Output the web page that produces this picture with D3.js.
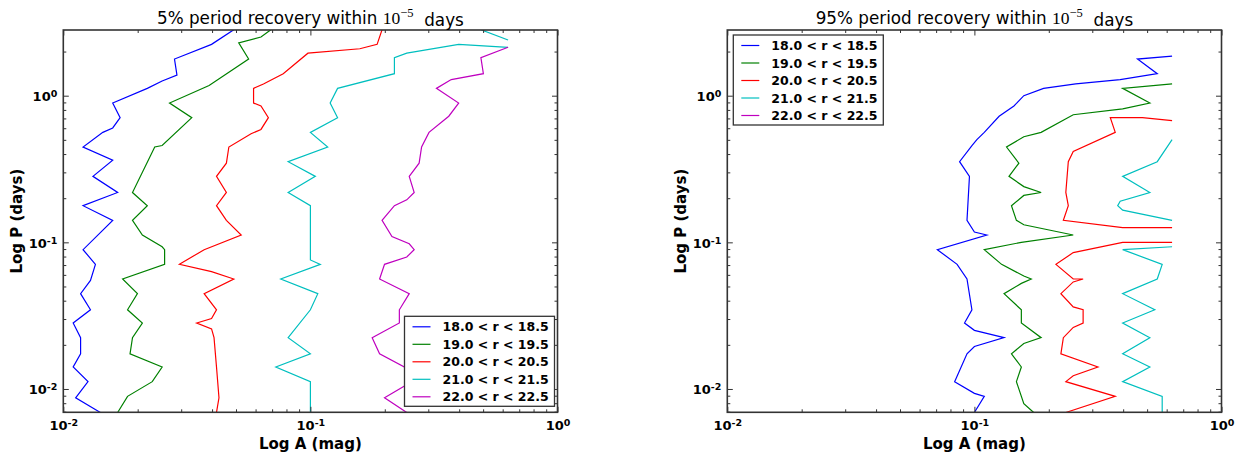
<!DOCTYPE html>
<html>
<head>
<meta charset="utf-8">
<script src="https://cdn.jsdelivr.net/npm/d3@7"></script>
<style>
  body { margin: 0; background: #fff; }
  svg { display: block; font-family: "DejaVu Sans", sans-serif; }
</style>
</head>
<body>
<div id="chart"></div>
<script>
// magnitude bins (legend) -- values are [log10 A, log10 P]
const binLabels = ["18.0 < r < 18.5", "19.0 < r < 19.5", "20.0 < r < 20.5", "21.0 < r < 21.5", "22.0 < r < 22.5"];
const binColors = ["#0000ff", "#008000", "#ff0000", "#00bfbf", "#bf00bf"];

const xTicks = [0.01, 0.1, 1];
const yTicks = [0.01, 0.1, 1];

// 5% recovery contours
const p5_r18 = [[
    [-1.31,0.45],[-1.40,0.35],[-1.55,0.25],[-1.54,0.14],[-1.60,0.10],[-1.66,0.05],[-1.80,-0.05],[-1.77,-0.15],
    [-1.80,-0.22],[-1.84,-0.25],[-1.92,-0.35],[-1.80,-0.44],[-1.88,-0.55],[-1.78,-0.66],[-1.92,-0.75],[-1.80,-0.85],
    [-1.92,-1.05],[-1.87,-1.15],[-1.89,-1.26],[-1.93,-1.35],[-1.89,-1.46],[-1.96,-1.55],[-1.93,-1.65],[-1.93,-1.76],
    [-1.96,-1.85],[-1.90,-1.95],[-1.95,-2.06],[-1.85,-2.16]
]];
const p5_r19 = [[
    [-1.16,0.45],[-1.20,0.40],[-1.29,0.36],[-1.25,0.25],[-1.41,0.07],[-1.57,-0.05],[-1.48,-0.15],[-1.60,-0.34],
    [-1.63,-0.35],[-1.72,-0.66],[-1.66,-0.75],[-1.72,-0.85],[-1.68,-0.95],[-1.60,-1.03],[-1.59,-1.05],[-1.59,-1.15],
    [-1.76,-1.25],[-1.70,-1.35],[-1.74,-1.46],[-1.68,-1.55],[-1.72,-1.65],[-1.73,-1.76],[-1.60,-1.85],[-1.64,-1.95],
    [-1.74,-2.05],[-1.78,-2.16]
]];
const p5_r20 = [[
    [-0.71,0.45],[-0.73,0.35],[-0.80,0.32],[-1.01,0.29],[-1.11,0.15],[-1.19,0.08],[-1.23,0.05],[-1.23,-0.05],
    [-1.20,-0.07],[-1.17,-0.15],[-1.20,-0.23],[-1.24,-0.26],[-1.33,-0.35],[-1.34,-0.46],[-1.38,-0.55],[-1.34,-0.66],
    [-1.38,-0.75],[-1.34,-0.85],[-1.28,-0.95],[-1.43,-1.05],[-1.53,-1.15],[-1.40,-1.20],[-1.31,-1.25],[-1.43,-1.35],
    [-1.38,-1.46],[-1.40,-1.52],[-1.46,-1.55],[-1.40,-1.59],[-1.39,-1.65],[-1.38,-1.85],[-1.37,-2.06],[-1.38,-2.16]
]];
const p5_r21 = [
    [[-0.31,0.45],[-0.20,0.38]],
    [[-0.20,0.33],[-0.40,0.35],[-0.61,0.29],[-0.66,0.26],[-0.66,0.15],[-0.89,0.05],[-0.92,-0.05],[-0.89,-0.15],
     [-1.00,-0.25],[-0.93,-0.35],[-1.09,-0.45],[-0.98,-0.55],[-1.09,-0.66],[-1.00,-0.75],[-1.00,-1.12],[-0.96,-1.15],
     [-1.12,-1.25],[-0.97,-1.35],[-1.00,-1.46],[-1.09,-1.65],[-1.00,-1.76],[-1.14,-1.85],[-1.00,-1.95],[-1.00,-2.16]]
];
const p5_r22 = [[
    [-0.20,0.33],[-0.31,0.26],[-0.30,0.15],[-0.43,0.11],[-0.49,0.05],[-0.40,-0.05],[-0.44,-0.14],[-0.52,-0.25],
    [-0.55,-0.35],[-0.56,-0.46],[-0.60,-0.55],[-0.58,-0.66],[-0.61,-0.71],[-0.66,-0.75],[-0.71,-0.85],[-0.67,-0.96],
    [-0.60,-1.01],[-0.58,-1.05],[-0.61,-1.10],[-0.70,-1.15],[-0.72,-1.25],[-0.60,-1.35],[-0.64,-1.46],[-0.64,-1.55],
    [-0.75,-1.65],[-0.72,-1.76],[-0.62,-1.85],[-0.59,-1.95],[-0.70,-2.06],[-0.61,-2.16]
]];

// 95% recovery contours
const p95_r18 = [[
    [-0.20,0.27],[-0.34,0.25],[-0.26,0.15],[-0.41,0.11],[-0.59,0.08],[-0.72,0.05],[-0.80,0.00],[-0.84,-0.07],
    [-0.90,-0.14],[-0.96,-0.25],[-0.99,-0.30],[-1.01,-0.34],[-1.06,-0.45],[-1.02,-0.55],[-1.03,-0.85],[-1.00,-0.93],
    [-0.95,-0.95],[-1.15,-1.05],[-1.07,-1.15],[-1.03,-1.25],[-1.01,-1.46],[-1.04,-1.55],[-1.00,-1.60],[-0.88,-1.65],
    [-1.00,-1.71],[-1.03,-1.76],[-1.08,-1.95],[-1.00,-2.03],[-0.96,-2.05],[-1.00,-2.16]
]];
const p95_r19 = [[
    [-0.20,0.08],[-0.40,0.05],[-0.29,-0.05],[-0.40,-0.09],[-0.60,-0.13],[-0.73,-0.25],[-0.80,-0.28],[-0.87,-0.35],
    [-0.82,-0.46],[-0.86,-0.55],[-0.80,-0.62],[-0.73,-0.66],[-0.80,-0.68],[-0.85,-0.75],[-0.83,-0.85],[-0.80,-0.88],
    [-0.60,-0.95],[-0.81,-1.00],[-0.96,-1.05],[-0.89,-1.15],[-0.80,-1.23],[-0.77,-1.25],[-0.81,-1.28],[-0.88,-1.35],
    [-0.81,-1.46],[-0.81,-1.55],[-0.73,-1.65],[-0.80,-1.69],[-0.85,-1.76],[-0.81,-1.85],[-0.83,-1.95],[-0.80,-2.10],
    [-0.76,-2.16]
]];
const p95_r20 = [
    [[-0.20,-0.17],[-0.32,-0.15],[-0.45,-0.15],[-0.43,-0.25],[-0.60,-0.38],[-0.62,-0.45],[-0.63,-0.66],[-0.62,-0.75],
     [-0.64,-0.85],[-0.40,-0.90],[-0.20,-0.90]],
    [[-0.20,-1.00],[-0.40,-1.00],[-0.60,-1.07],[-0.67,-1.15],[-0.60,-1.25],[-0.56,-1.25],[-0.60,-1.27],[-0.65,-1.35],
     [-0.60,-1.44],[-0.56,-1.46],[-0.56,-1.55],[-0.60,-1.58],[-0.64,-1.65],[-0.65,-1.76],[-0.50,-1.85],[-0.60,-1.91],
     [-0.63,-1.95],[-0.43,-2.05],[-0.63,-2.16]]
];
const p95_r21 = [
    [[-0.20,-0.30],[-0.26,-0.45],[-0.40,-0.55],[-0.29,-0.66],[-0.41,-0.72],[-0.42,-0.75],[-0.40,-0.78],[-0.20,-0.85]],
    [[-0.20,-1.03],[-0.40,-1.05],[-0.24,-1.15],[-0.26,-1.25],[-0.40,-1.35],[-0.27,-1.46],[-0.40,-1.55],[-0.29,-1.65],
     [-0.40,-1.76],[-0.29,-1.85],[-0.40,-1.95],[-0.24,-2.05],[-0.24,-2.16]]
];
const p95_r22 = [];

const panels = [
    {title: "5% period recovery within ", series: [p5_r18, p5_r19, p5_r20, p5_r21, p5_r22],
     left: 63.3, legendPos: "lower right"},
    {title: "95% period recovery within ", series: [p95_r18, p95_r19, p95_r20, p95_r21, p95_r22],
     left: 727.3, legendPos: "upper left"}
];

const width = 1237, height = 453;
const plotW = 494.2, plotTop = 30, plotH = 382.3;

const svg = d3.select("#chart").append("svg")
    .attr("width", width)
    .attr("height", height);

function powerLabel(sel) {
    sel.each(function(d) {
        const t = d3.select(this);
        const e = Math.round(Math.log10(d));
        t.text(null);
        t.append("tspan").text("10");
        t.append("tspan").attr("dy", "-0.45em").attr("font-size", "9.5px").text(e);
    });
}

panels.forEach((p, pi) => {
    const x = d3.scaleLog().domain([0.01, 1]).range([0, plotW]);
    const y = d3.scaleLog().domain([Math.pow(10, -2.159), Math.pow(10, 0.448)]).range([plotH, 0]);

    const g = svg.append("g").attr("transform", `translate(${p.left},${plotTop})`);

    g.append("clipPath").attr("id", "clip" + pi)
        .append("rect").attr("width", plotW).attr("height", plotH);

    const minorX = [];
    [0.01, 0.1].forEach(b => { for (let k = 2; k <= 9; k++) minorX.push(b * k); });
    const minorY = [];
    [0.001, 0.01, 0.1, 1].forEach(b => { for (let k = 2; k <= 9; k++) { const v = b * k; if (v >= y.domain()[0] && v <= y.domain()[1]) minorY.push(v); } });

    // contour lines
    const line = d3.line().x(d => x(Math.pow(10, d[0]))).y(d => y(Math.pow(10, d[1])));
    const lines = g.append("g").attr("clip-path", `url(#clip${pi})`);
    p.series.forEach((segs, si) => {
        lines.selectAll(null)
            .data(segs)
            .join("path")
            .attr("d", line)
            .attr("fill", "none")
            .attr("stroke", binColors[si])
            .attr("stroke-width", 1.2);
    });

    // axes: major ticks with labels, minor ticks plain, all inward
    const styleAxis = a => {
        a.select(".domain").remove();
        a.selectAll(".tick line").attr("stroke", "#333").attr("stroke-width", 1);
    };
    const bottom = g.append("g").attr("transform", `translate(0,${plotH})`)
        .call(d3.axisBottom(x).tickValues(xTicks).tickSize(-5.5).tickFormat(d => d))
        .call(styleAxis);
    bottom.selectAll(".tick text")
        .attr("y", 18).attr("dy", null)
        .attr("font-size", "13px").attr("font-weight", "bold").attr("fill", "#000")
        .attr("font-family", "DejaVu Sans")
        .call(powerLabel);
    g.append("g").attr("transform", `translate(0,${plotH})`)
        .call(d3.axisBottom(x).tickValues(minorX).tickSize(-3).tickFormat(""))
        .call(styleAxis);
    g.append("g")
        .call(d3.axisTop(x).tickValues(xTicks).tickSize(-5.5).tickFormat(""))
        .call(styleAxis);
    g.append("g")
        .call(d3.axisTop(x).tickValues(minorX).tickSize(-3).tickFormat(""))
        .call(styleAxis);

    const leftAx = g.append("g")
        .call(d3.axisLeft(y).tickValues(yTicks).tickSize(-5.5).tickFormat(d => d))
        .call(styleAxis);
    leftAx.selectAll(".tick text")
        .attr("x", -6).attr("dy", "0.38em")
        .attr("font-size", "13px").attr("font-weight", "bold").attr("fill", "#000")
        .attr("font-family", "DejaVu Sans")
        .call(powerLabel);
    g.append("g")
        .call(d3.axisLeft(y).tickValues(minorY).tickSize(-3).tickFormat(""))
        .call(styleAxis);
    g.append("g").attr("transform", `translate(${plotW},0)`)
        .call(d3.axisRight(y).tickValues(yTicks).tickSize(-5.5).tickFormat(""))
        .call(styleAxis);
    g.append("g").attr("transform", `translate(${plotW},0)`)
        .call(d3.axisRight(y).tickValues(minorY).tickSize(-3).tickFormat(""))
        .call(styleAxis);

    // frame
    g.append("rect")
        .attr("width", plotW).attr("height", plotH)
        .attr("fill", "none").attr("stroke", "#333").attr("stroke-width", 1.6);

    // title
    const title = g.append("text")
        .attr("x", plotW / 2).attr("y", -6.5)
        .attr("text-anchor", "middle")
        .attr("font-size", "16.8px").attr("fill", "#000");
    title.append("tspan").text(p.title);
    title.append("tspan").attr("font-family", "Liberation Serif, serif").attr("font-size", "17.5px").text("10");
    title.append("tspan").attr("font-family", "Liberation Serif, serif").attr("font-size", "12.5px").attr("dy", "-0.5em").text("\u22125");
    title.append("tspan").attr("dy", "0.5em").text("\u00a0 days");

    // axis labels
    g.append("text")
        .attr("x", plotW / 2).attr("y", plotH + 37)
        .attr("text-anchor", "middle")
        .attr("font-size", "15px").attr("font-weight", "bold")
        .text("Log A (mag)");
    g.append("text")
        .attr("transform", `translate(-41.5,${plotH / 2}) rotate(-90)`)
        .attr("text-anchor", "middle")
        .attr("font-size", "15px").attr("font-weight", "bold")
        .text("Log P (days)");

    // legend
    const lw = 150, lh = 90;
    const lx = p.legendPos === "lower right" ? plotW - lw - 3 : 6;
    const ly = p.legendPos === "lower right" ? plotH - lh - 6 : 5;
    const legend = g.append("g").attr("transform", `translate(${lx},${ly})`);
    legend.append("rect")
        .attr("width", lw).attr("height", lh)
        .attr("fill", "#fff").attr("stroke", "#333").attr("stroke-width", 1.3);
    const rows = legend.selectAll("g.row")
        .data(binLabels)
        .join("g")
        .attr("class", "row")
        .attr("transform", (d, i) => `translate(0,${10.5 + i * 17.5})`);
    rows.append("line")
        .attr("x1", 8).attr("x2", 26)
        .attr("stroke", (d, i) => binColors[i]).attr("stroke-width", 1.2);
    rows.append("text")
        .attr("x", 38).attr("dy", "0.36em")
        .attr("font-size", "12.5px").attr("font-weight", "bold")
        .text(d => d);
});
</script>
</body>
</html>
